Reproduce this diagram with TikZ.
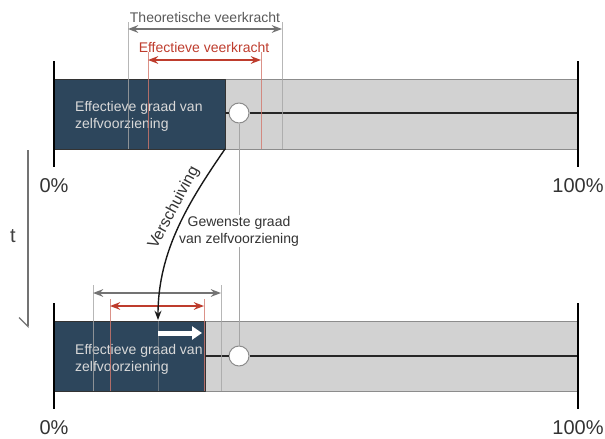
\documentclass[tikz,border=0pt]{standalone}
\usepackage{fontspec}
\setmainfont{Liberation Sans}
\usetikzlibrary{arrows.meta}
\definecolor{boxblue}{RGB}{45,70,92}
\definecolor{bargray}{RGB}{210,210,210}
\definecolor{edgegray}{RGB}{140,140,140}
\definecolor{linegray}{RGB}{165,165,165}
\definecolor{veerred}{RGB}{190,60,45}
\tikzset{
  bar/.style={fill=bargray, draw=edgegray, line width=1pt},
  effbox/.style={fill=boxblue, draw=black!80, line width=0.8pt},
  tick/.style={line width=2.6pt, black},
  mid/.style={line width=2.4pt, black!85},
  knob/.style={circle, draw=edgegray, fill=white, line width=1pt, minimum size=20pt, inner sep=0pt},
  guide/.style={linegray, line width=1pt},
  redguide/.style={veerred!70, line width=1pt},
  boxtext/.style={text=white!85!black, font=\fontsize{14}{17}\selectfont, align=left, anchor=west, inner sep=0pt},
  pct/.style={font=\fontsize{20}{22}\selectfont, text=black!80},
}
\begin{document}
\begin{tikzpicture}[x=1pt,y=-1pt,>=Stealth, line join=round]
\useasboundingbox (0,0) rectangle (605,439);
%\draw[color=gray!30] (0,0) grid[step=20] (605,439);
% top bar
\draw[bar] (54,79) rectangle (578,149);
\draw[effbox] (54,79) rectangle (225,149);
\coordinate (s1) at (225,149);
\node[knob] (c1) at (239,113) {};
\draw[mid] (225,113) -- (c1.west);
\draw[mid] (c1.east) -- (578,113);
\foreach \x in {54,578} \draw[tick] (\x,61)--(\x,167);
\node[boxtext] (e1) at (75,116) {Effectieve graad van\\zelfvoorziening};
% veerkracht, top
\foreach \x in {128,282} \draw[guide, opacity=0.8] (\x,22)--(\x,149);
\foreach \x in {148,261} \draw[redguide, opacity=0.8] (\x,52)--(\x,149);
\node[font=\fontsize{14}{16}\selectfont, text=black!65] (th1) at (205,17) {Theoretische veerkracht};
\draw[<->, black!55, line width=1.6pt] (128,29)--(282,29);
\node[font=\fontsize{14}{16}\selectfont, text=veerred] (ef1) at (204,47) {Effectieve veerkracht};
\draw[<->, veerred, line width=1.6pt] (148,60)--(261,60);
\node[pct] (p0a) at (54,186) {0\%};
\node[pct] (p1a) at (578,186) {100\%};
% bottom bar
\draw[bar] (54,321) rectangle (578,391);
\draw[effbox] (54,321) rectangle (205,391);
\node[knob] (c2) at (239,356) {};
\draw[mid] (205,356) -- (c2.west);
\draw[mid] (c2.east) -- (578,356);
\foreach \x in {54,578} \draw[tick] (\x,303)--(\x,409);
\node[boxtext] (e2) at (75,359) {Effectieve graad van\\zelfvoorziening};
% veerkracht, bottom
\foreach \x in {93,221} \draw[guide, opacity=0.8] (\x,285)--(\x,391);
\foreach \x in {110,204} \draw[redguide, opacity=0.8] (\x,299)--(\x,391);
\draw[<->, black!55, line width=1.6pt] (93,293)--(221,293);
\draw[<->, veerred, line width=1.6pt] (110,306)--(204,306);
\draw[guide, opacity=0.5] (158,321)--(158,391);
\node[pct] (p0b) at (54,428) {0\%};
\node[pct] (p1b) at (578,428) {100\%};
% gewenste graad
\draw[guide] (c1.south) -- (c2.north);
\node[fill=white, align=center, inner sep=1pt, font=\fontsize{14}{17}\selectfont, text=black!80] (gw) at (239,231) {Gewenste graad\\van zelfvoorziening};
% verschuiving
\coordinate (s2) at (158,320);
\draw[->, line width=1.4pt, black!90] (s1) .. controls (190,200) and (158,250) .. (s2);
\node[rotate=62, font=\fontsize{16}{18}\selectfont, text=black!80] (vs) at (174,208) {Verschuiving};
\coordinate (w1) at (158,333);
\coordinate (w2) at (202,333);
\draw[-{Triangle[length=10pt,width=13pt]}, white, line width=5pt] (w1) -- (w2);
% tijd
\coordinate (t1) at (28,150);
\coordinate (t2) at (28,328);
\draw[-{Straight Barb[harpoon,swap,length=9pt,width=18pt]}, black!55, line width=1.2pt] (t1) -- (t2);
\node[font=\fontsize{20}{22}\selectfont, text=black!75] (tt) at (13,236) {t};
\end{tikzpicture}
\end{document}
